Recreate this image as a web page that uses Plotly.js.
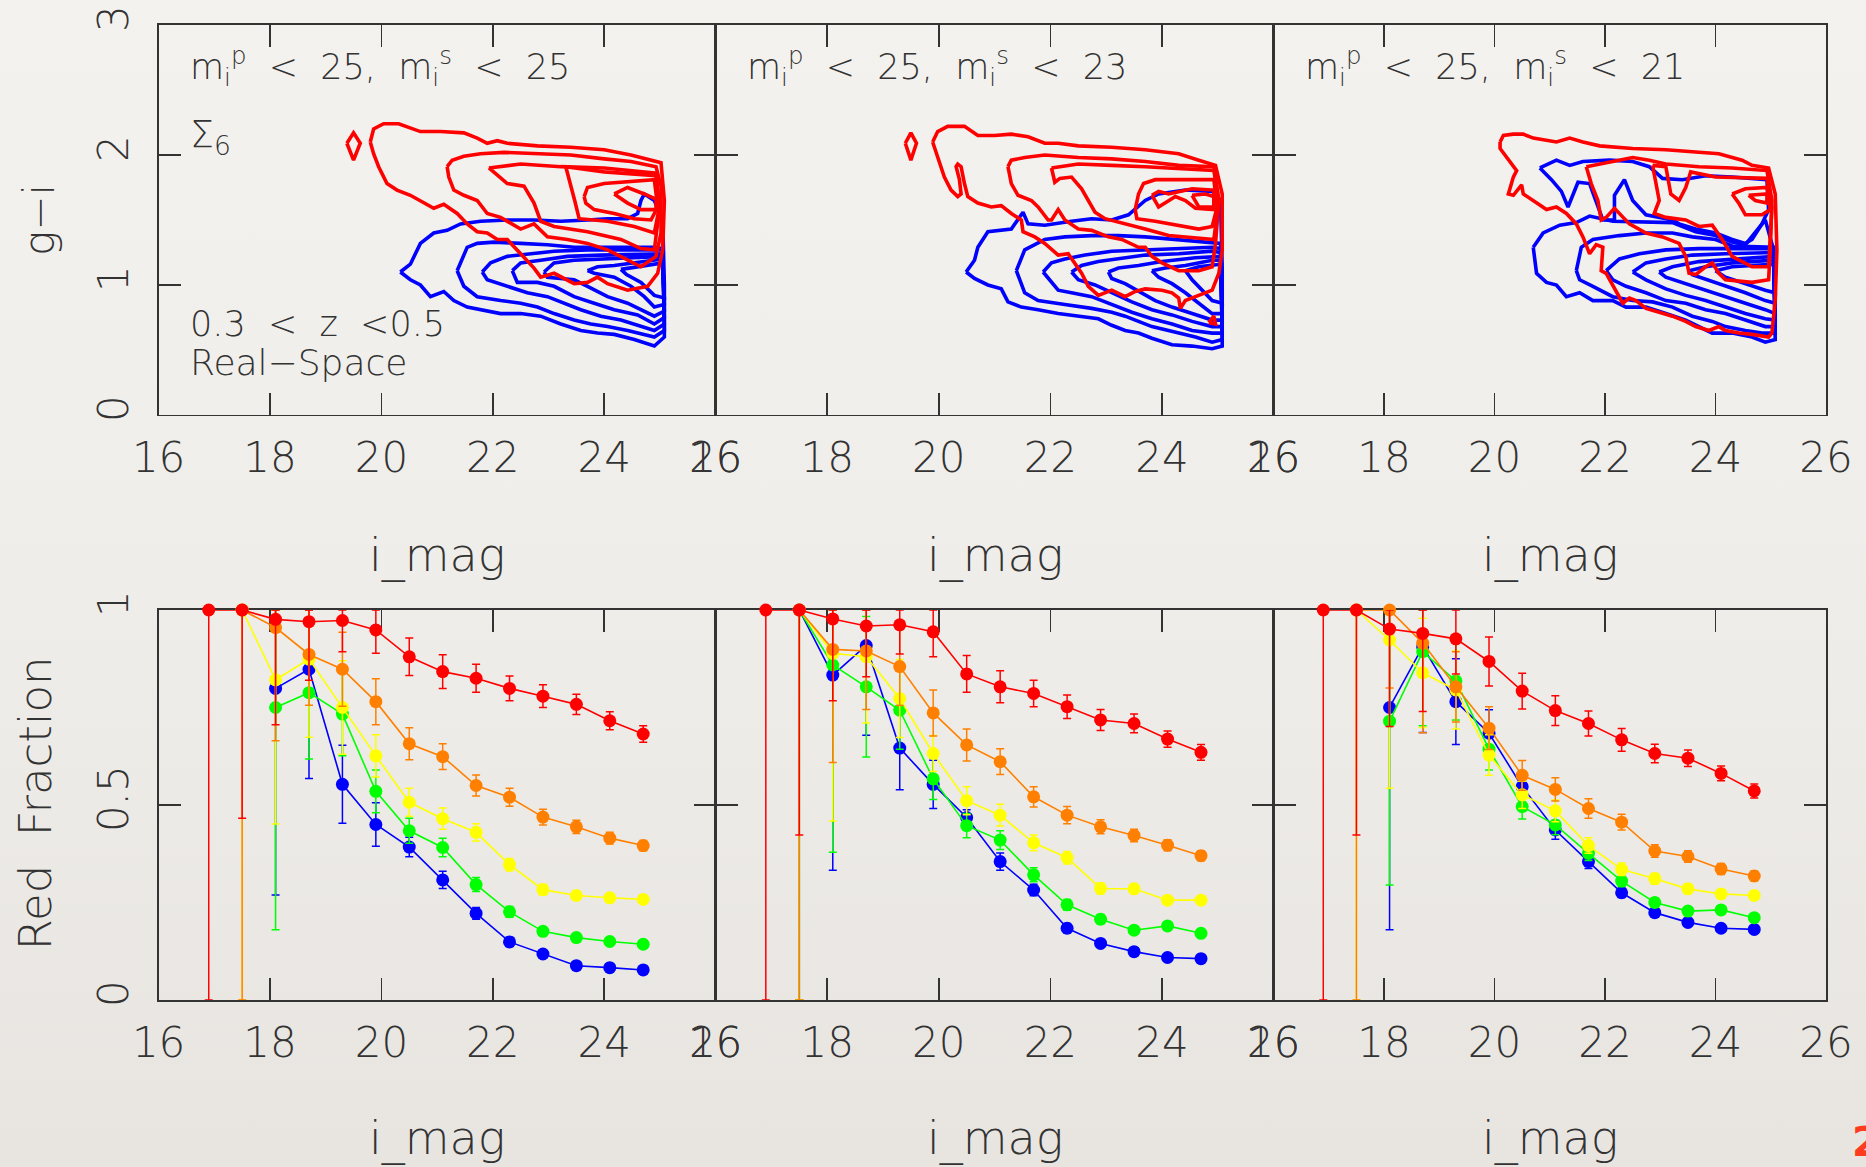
<!DOCTYPE html>
<html><head><meta charset="utf-8">
<script src="https://cdn.plot.ly/plotly-3.0.1.min.js"></script>
<style>
html,body{margin:0;padding:0;width:1866px;height:1167px;overflow:hidden;
background:linear-gradient(to bottom,#f4f2ee 0%,#f0eeea 45%,#e8e5e1 100%);}
#chart{width:1866px;height:1167px;}
</style></head><body><div id="chart"></div>
<script>
// ---------- Red fraction data (bottom row) ----------
const iMag = [16.9,17.5,18.1,18.7,19.3,19.9,20.5,21.1,21.7,22.3,22.9,23.5,24.1,24.7];

const red1 = [1.0,1.0,0.976,0.970,0.973,0.949,0.880,0.842,0.825,0.799,0.779,0.758,0.716,0.682];
const red1Err = [1.0,0.534,0.27,0.15,0.08,0.06,0.048,0.043,0.036,0.032,0.029,0.026,0.023,0.021];
const orange1 = [null,1.0,0.955,0.886,0.848,0.765,0.657,0.624,0.550,0.520,0.469,0.444,0.415,0.396];
const orange1Err = [null,1.0,0.29,0.13,0.095,0.059,0.041,0.033,0.027,0.023,0.02,0.017,0.015,0.013];
const yellow1 = [null,1.0,0.821,0.874,0.750,0.626,0.507,0.465,0.430,0.347,0.283,0.268,0.262,0.258];
const yellow1Err = [null,1.0,0.37,0.2,0.12,0.054,0.036,0.027,0.022,0.016,0.014,0.012,0.011,0.01];
const green1 = [null,null,0.750,0.788,0.733,0.535,0.434,0.391,0.296,0.226,0.176,0.160,0.150,0.143];
const green1Err = [null,null,0.57,0.17,0.107,0.055,0.032,0.024,0.018,0.014,0.012,0.01,0.009,0.008];
const blue1 = [null,null,0.799,0.848,0.553,0.450,0.392,0.308,0.222,0.149,0.118,0.088,0.083,0.077];
const blue1Err = [null,null,0.53,0.28,0.10,0.056,0.025,0.022,0.015,0.012,0.01,0.008,0.008,0.007];

const red2 = [1.0,1.0,0.977,0.959,0.962,0.944,0.836,0.803,0.786,0.752,0.718,0.709,0.669,0.635];
const red2Err = [1.0,0.577,0.21,0.13,0.075,0.064,0.047,0.041,0.034,0.03,0.027,0.024,0.021,0.02];
const orange2 = [null,1.0,0.899,0.895,0.855,0.736,0.654,0.611,0.521,0.474,0.444,0.422,0.397,0.370];
const orange2Err = [null,1.0,0.29,0.15,0.10,0.059,0.041,0.033,0.026,0.022,0.018,0.016,0.014,0.013];
const yellow2 = [null,1.0,0.889,0.880,0.773,0.632,0.511,0.474,0.403,0.365,0.286,0.285,0.256,0.256];
const yellow2Err = [null,1.0,0.43,0.17,0.10,0.046,0.036,0.028,0.02,0.016,0.014,0.012,0.011,0.01];
const green2 = [null,1.0,0.859,0.803,0.743,0.567,0.447,0.410,0.321,0.244,0.207,0.179,0.190,0.171];
const green2Err = [null,1.0,0.48,0.18,0.10,0.053,0.031,0.024,0.018,0.014,0.012,0.01,0.009,0.008];
const blue2 = [null,1.0,0.833,0.909,0.646,0.553,0.468,0.355,0.282,0.184,0.145,0.124,0.109,0.106];
const blue2Err = [null,1.0,0.5,0.23,0.107,0.062,0.02,0.022,0.015,0.012,0.01,0.008,0.008,0.007];

const red3 = [1.0,1.0,0.951,0.940,0.926,0.868,0.792,0.742,0.709,0.667,0.632,0.620,0.581,0.536];
const red3Err = [1.0,0.577,0.25,0.2,0.09,0.063,0.046,0.038,0.032,0.029,0.024,0.021,0.019,0.018];
const orange3 = [null,1.0,1.0,0.915,0.803,0.697,0.576,0.540,0.491,0.456,0.382,0.368,0.336,0.318];
const orange3Err = [null,1.0,0.2,0.23,0.09,0.055,0.038,0.03,0.025,0.02,0.016,0.015,0.014,0.013];
const yellow3 = [null,1.0,0.923,0.839,0.795,0.628,0.526,0.485,0.396,0.335,0.311,0.285,0.272,0.268];
const yellow3Err = [null,1.0,0.38,0.14,0.1,0.052,0.035,0.028,0.02,0.016,0.014,0.012,0.011,0.01];
const green3 = [null,null,0.715,0.893,0.818,0.643,0.496,0.449,0.376,0.305,0.250,0.228,0.231,0.211];
const green3Err = [null,null,0.42,0.19,0.1,0.053,0.032,0.025,0.018,0.014,0.012,0.01,0.009,0.008];
const blue3 = [null,null,0.750,0.906,0.765,0.684,0.547,0.436,0.355,0.275,0.224,0.199,0.184,0.181];
const blue3Err = [null,null,0.57,0.22,0.11,0.06,0.03,0.024,0.018,0.012,0.01,0.008,0.008,0.007];

// ---------- Contour lines (top row), [i_mag, g-i] ----------
const redContours1 = [
 [[19.38,2.09],[19.50,2.17],[19.62,2.09],[19.50,1.96],[19.38,2.09]],
 [[19.80,2.10],[19.86,2.20],[20.04,2.24],[20.31,2.24],[20.70,2.18],[21.06,2.18],[21.48,2.17],[21.72,2.13],[21.90,2.09],[22.08,2.11],[22.26,2.09],[22.80,2.07],[23.40,2.06],[24.00,2.04],[24.48,2.00],[24.90,1.95],[25.02,1.94],[25.08,1.65],[25.05,1.27],[24.96,1.09],[24.78,0.99],[24.42,0.96],[24.06,1.01],[23.88,1.06],[23.70,1.02],[23.46,1.01],[23.10,1.09],[22.86,1.06],[22.74,1.13],[22.50,1.24],[22.26,1.35],[22.08,1.35],[21.90,1.40],[21.72,1.41],[21.54,1.47],[21.36,1.55],[21.12,1.62],[20.94,1.59],[20.70,1.65],[20.52,1.69],[20.28,1.73],[20.10,1.78],[19.95,1.91],[19.86,2.01],[19.80,2.10]],
 [[21.18,1.91],[21.27,1.96],[21.48,1.99],[21.78,2.01],[22.20,2.02],[22.80,2.01],[23.40,2.00],[24.00,1.97],[24.48,1.95],[24.93,1.91],[25.02,1.76],[25.02,1.40],[24.93,1.22],[24.66,1.14],[24.42,1.19],[24.06,1.27],[23.70,1.32],[23.34,1.35],[22.98,1.37],[22.74,1.47],[22.50,1.43],[22.14,1.52],[21.90,1.55],[21.72,1.65],[21.48,1.69],[21.30,1.73],[21.21,1.83],[21.18,1.91]],
 [[21.93,1.90],[22.50,1.93],[23.22,1.91],[24.00,1.90],[24.93,1.86],[24.99,1.58],[24.90,1.27],[24.66,1.28],[24.30,1.35],[23.70,1.41],[23.10,1.45],[22.86,1.49],[22.74,1.63],[22.56,1.76],[22.26,1.78],[21.93,1.90]],
 [[23.31,1.91],[24.00,1.87],[24.93,1.84],[24.99,1.60],[24.90,1.40],[24.54,1.45],[24.06,1.49],[23.55,1.51],[23.47,1.65],[23.37,1.83],[23.31,1.91]],
 [[23.64,1.68],[23.70,1.75],[24.00,1.78],[24.30,1.79],[24.90,1.81],[24.96,1.60],[24.84,1.50],[24.54,1.51],[24.18,1.55],[23.82,1.58],[23.67,1.63],[23.64,1.68]],
 [[24.18,1.70],[24.42,1.75],[24.72,1.70],[24.93,1.66],[24.93,1.58],[24.66,1.58],[24.42,1.63],[24.18,1.70]]
];
const blueContours1 = [
 [[20.34,1.10],[20.52,1.16],[20.70,1.32],[20.94,1.40],[21.18,1.42],[21.42,1.47],[21.78,1.49],[22.26,1.50],[22.74,1.50],[23.22,1.49],[23.70,1.50],[24.06,1.51],[24.42,1.51],[24.60,1.55],[24.66,1.65],[24.72,1.70],[24.90,1.65],[25.05,1.50],[25.08,1.00],[25.08,0.60],[24.90,0.53],[24.54,0.58],[24.18,0.62],[23.88,0.63],[23.58,0.65],[23.22,0.70],[22.86,0.76],[22.50,0.78],[22.14,0.78],[21.78,0.81],[21.54,0.83],[21.30,0.88],[21.12,0.95],[20.88,0.91],[20.70,1.00],[20.52,1.04],[20.34,1.10]],
 [[21.36,1.11],[21.54,1.29],[21.72,1.32],[22.02,1.33],[22.50,1.32],[22.98,1.31],[23.46,1.29],[23.94,1.29],[24.30,1.29],[24.90,1.29],[25.05,1.28],[25.08,0.65],[24.90,0.60],[24.42,0.65],[24.06,0.68],[23.76,0.70],[23.46,0.73],[23.10,0.78],[22.80,0.83],[22.50,0.86],[22.14,0.88],[21.72,0.91],[21.48,0.99],[21.36,1.11]],
 [[21.81,1.10],[21.96,1.17],[22.26,1.22],[22.62,1.24],[23.10,1.26],[23.70,1.27],[24.90,1.27],[25.05,1.27],[25.08,0.70],[24.90,0.65],[24.30,0.73],[23.94,0.76],[23.58,0.81],[23.28,0.86],[22.98,0.91],[22.62,0.94],[22.26,0.99],[21.90,1.04],[21.81,1.10]],
 [[22.35,1.11],[22.50,1.17],[22.86,1.19],[23.34,1.22],[23.94,1.23],[24.90,1.24],[25.05,1.24],[25.08,0.75],[24.90,0.70],[24.60,0.77],[24.18,0.81],[23.82,0.86],[23.46,0.91],[23.10,0.99],[22.80,1.02],[22.44,1.02],[22.35,1.11]],
 [[22.92,1.10],[23.10,1.17],[23.46,1.19],[24.00,1.20],[24.90,1.22],[25.05,1.22],[25.08,0.80],[24.90,0.76],[24.42,0.86],[24.06,0.91],[23.70,0.99],[23.46,1.04],[22.98,1.06],[22.92,1.10]],
 [[23.70,1.11],[23.88,1.14],[24.18,1.15],[24.90,1.19],[25.05,1.20],[25.08,0.85],[24.90,0.83],[24.72,0.91],[24.48,0.99],[24.18,1.06],[23.82,1.09],[23.70,1.11]],
 [[24.30,1.12],[24.60,1.14],[25.05,1.17],[25.08,0.90],[24.90,0.92],[24.66,1.02],[24.40,1.08],[24.30,1.12]]
];

const redContours2 = [
 [[19.40,2.09],[19.50,2.17],[19.60,2.09],[19.50,1.96],[19.40,2.09]],
 [[19.89,2.10],[19.98,2.18],[20.16,2.22],[20.46,2.22],[20.70,2.15],[21.00,2.15],[21.30,2.16],[21.60,2.14],[21.90,2.09],[22.14,2.09],[22.50,2.07],[23.10,2.06],[23.70,2.04],[24.30,2.01],[24.66,1.96],[24.96,1.92],[25.08,1.70],[25.08,1.27],[25.02,1.09],[24.90,0.96],[24.60,0.91],[24.42,0.88],[24.33,0.82],[24.30,0.90],[24.18,0.94],[24.00,0.96],[23.70,0.97],[23.52,0.95],[23.34,0.91],[23.10,0.96],[22.86,0.92],[22.68,0.99],[22.56,1.09],[22.44,1.17],[22.32,1.24],[22.14,1.23],[21.90,1.32],[21.72,1.37],[21.51,1.41],[21.48,1.50],[21.30,1.55],[21.12,1.61],[20.94,1.60],[20.70,1.63],[20.52,1.68],[20.46,1.78],[20.40,1.91],[20.34,1.93],[20.31,1.91],[20.37,1.81],[20.40,1.70],[20.34,1.68],[20.22,1.73],[20.10,1.83],[19.98,1.98],[19.89,2.10]],
 [[21.24,1.91],[21.30,1.96],[21.54,1.98],[21.90,2.00],[22.50,1.98],[23.10,1.97],[23.70,1.95],[24.30,1.92],[24.93,1.91],[25.02,1.65],[24.96,1.32],[24.90,1.14],[24.66,1.11],[24.30,1.11],[24.00,1.17],[23.82,1.22],[23.70,1.29],[23.58,1.29],[23.28,1.35],[23.04,1.37],[22.74,1.42],[22.50,1.43],[22.26,1.50],[22.14,1.58],[22.02,1.50],[21.96,1.50],[21.78,1.60],[21.66,1.65],[21.42,1.69],[21.30,1.78],[21.24,1.91]],
 [[22.02,1.90],[22.50,1.93],[23.10,1.92],[23.70,1.91],[24.93,1.88],[25.02,1.65],[24.93,1.35],[24.60,1.36],[24.12,1.38],[23.70,1.43],[23.34,1.47],[22.98,1.51],[22.80,1.56],[22.68,1.65],[22.56,1.74],[22.38,1.83],[22.17,1.82],[22.08,1.79],[22.02,1.90]],
 [[23.52,1.58],[23.58,1.70],[23.67,1.78],[23.88,1.81],[24.30,1.81],[24.93,1.81],[24.99,1.60],[24.90,1.45],[24.66,1.43],[24.30,1.46],[23.88,1.49],[23.55,1.51],[23.52,1.58]],
 [[23.82,1.69],[23.94,1.72],[24.12,1.70],[24.30,1.72],[24.54,1.74],[24.93,1.73],[24.93,1.58],[24.60,1.59],[24.42,1.65],[24.24,1.68],[24.06,1.63],[23.94,1.60],[23.82,1.69]],
 [[24.54,1.69],[24.78,1.70],[24.93,1.68],[24.93,1.60],[24.66,1.60],[24.54,1.69]],
 [[24.84,0.71],[24.93,0.76],[24.96,0.70],[24.84,0.71]]
];
const blueContours2 = [
 [[20.49,1.10],[20.64,1.19],[20.70,1.29],[20.88,1.41],[21.30,1.43],[21.42,1.50],[21.51,1.56],[21.60,1.47],[21.90,1.46],[22.38,1.49],[22.74,1.51],[23.10,1.50],[23.40,1.54],[23.70,1.65],[23.94,1.70],[24.42,1.73],[24.90,1.72],[25.05,1.65],[25.08,1.14],[25.08,0.53],[24.90,0.51],[24.54,0.53],[24.18,0.54],[23.82,0.59],[23.58,0.63],[23.34,0.65],[23.10,0.69],[22.86,0.74],[22.50,0.76],[22.14,0.78],[21.78,0.81],[21.48,0.83],[21.24,0.87],[21.12,0.97],[20.88,1.00],[20.64,1.05],[20.49,1.10]],
 [[21.39,1.11],[21.54,1.27],[21.90,1.35],[22.26,1.37],[22.74,1.38],[23.22,1.38],[23.70,1.37],[24.30,1.35],[24.90,1.33],[25.05,1.32],[25.08,0.58],[24.90,0.56],[24.60,0.60],[24.30,0.63],[24.06,0.65],[23.82,0.68],[23.58,0.72],[23.34,0.76],[23.10,0.79],[22.74,0.82],[22.26,0.85],[21.78,0.88],[21.54,0.94],[21.39,1.11]],
 [[21.87,1.10],[22.02,1.17],[22.26,1.20],[22.62,1.23],[23.10,1.26],[23.70,1.27],[24.30,1.28],[24.90,1.29],[25.05,1.28],[25.08,0.63],[24.90,0.63],[24.54,0.65],[24.18,0.70],[23.82,0.74],[23.46,0.79],[23.10,0.85],[22.74,0.91],[22.38,0.94],[22.14,0.96],[21.87,1.10]],
 [[22.38,1.10],[22.56,1.15],[22.86,1.18],[23.22,1.20],[23.70,1.23],[24.30,1.24],[24.90,1.26],[25.05,1.25],[25.08,0.68],[24.90,0.68],[24.54,0.72],[24.18,0.77],[23.82,0.81],[23.46,0.87],[23.10,0.94],[22.80,1.00],[22.50,1.04],[22.38,1.10]],
 [[23.04,1.10],[23.22,1.13],[23.58,1.15],[24.00,1.18],[24.60,1.21],[25.05,1.22],[25.08,0.73],[24.90,0.73],[24.54,0.78],[24.18,0.83],[23.88,0.88],[23.58,0.95],[23.34,1.01],[23.10,1.05],[23.04,1.10]],
 [[23.82,1.11],[24.06,1.13],[24.42,1.15],[24.90,1.19],[25.05,1.19],[25.08,0.78],[24.90,0.78],[24.66,0.86],[24.42,0.94],[24.18,1.01],[23.94,1.06],[23.82,1.11]],
 [[24.42,1.11],[24.66,1.14],[25.05,1.16],[25.08,0.86],[24.90,0.88],[24.72,0.96],[24.54,1.04],[24.42,1.11]]
];

const redContours3 = [
 [[20.10,2.10],[20.16,2.15],[20.34,2.16],[20.52,2.16],[20.70,2.13],[20.94,2.11],[21.12,2.10],[21.36,2.13],[21.60,2.10],[21.90,2.07],[22.20,2.06],[22.50,2.05],[23.10,2.04],[23.70,2.02],[24.06,2.01],[24.48,1.96],[24.66,1.92],[24.96,1.90],[25.08,1.70],[25.11,1.27],[25.08,0.88],[25.02,0.63],[24.96,0.60],[24.66,0.62],[24.42,0.63],[24.18,0.65],[24.06,0.68],[23.88,0.65],[23.64,0.68],[23.46,0.72],[23.22,0.76],[22.98,0.79],[22.74,0.82],[22.56,0.88],[22.44,0.90],[22.32,0.86],[22.14,0.99],[22.02,1.09],[21.93,1.11],[21.96,1.29],[21.84,1.31],[21.72,1.24],[21.60,1.37],[21.48,1.47],[21.30,1.55],[21.12,1.60],[20.94,1.58],[20.70,1.65],[20.52,1.70],[20.49,1.77],[20.34,1.69],[20.25,1.70],[20.34,1.83],[20.40,1.88],[20.25,1.96],[20.10,2.05],[20.10,2.10]],
 [[21.66,1.91],[21.90,1.93],[22.26,1.96],[22.50,1.98],[22.80,1.96],[23.10,1.93],[23.70,1.91],[24.30,1.90],[24.93,1.88],[25.02,1.65],[24.99,1.27],[24.96,1.04],[24.66,1.02],[24.18,1.04],[24.06,1.09],[23.94,1.17],[23.82,1.14],[23.64,1.08],[23.52,1.09],[23.46,1.22],[23.34,1.32],[23.04,1.37],[22.74,1.40],[22.44,1.47],[22.17,1.59],[22.02,1.52],[21.93,1.50],[21.87,1.65],[21.75,1.78],[21.66,1.91]],
 [[22.86,1.92],[23.10,1.91],[23.19,1.70],[23.34,1.65],[23.46,1.75],[23.55,1.87],[24.00,1.83],[24.93,1.82],[25.02,1.60],[24.96,1.14],[24.66,1.14],[24.30,1.22],[24.12,1.35],[23.94,1.46],[23.70,1.45],[23.46,1.50],[23.10,1.52],[22.89,1.55],[22.98,1.65],[22.92,1.78],[22.86,1.92]],
 [[24.30,1.70],[24.54,1.74],[24.93,1.75],[24.99,1.58],[24.84,1.54],[24.54,1.54],[24.42,1.63],[24.30,1.70]],
 [[24.60,1.69],[24.93,1.70],[24.93,1.63],[24.72,1.65],[24.60,1.69]]
];
const blueContours3 = [
 [[20.82,1.90],[21.12,1.96],[21.36,1.92],[21.60,1.95],[22.08,1.96],[22.50,1.95],[22.80,1.91],[23.04,1.82],[23.40,1.81],[23.82,1.84],[24.30,1.83],[24.93,1.81],[24.96,1.58],[24.84,1.47],[24.66,1.35],[24.54,1.32],[24.30,1.35],[24.00,1.40],[23.64,1.43],[23.34,1.47],[23.22,1.50],[22.74,1.54],[22.50,1.65],[22.35,1.81],[22.17,1.69],[22.17,1.50],[21.96,1.50],[21.84,1.65],[21.72,1.78],[21.51,1.79],[21.33,1.60],[21.21,1.72],[21.03,1.81],[20.82,1.90]],
 [[20.70,1.29],[20.88,1.40],[21.18,1.46],[21.48,1.48],[21.72,1.53],[22.14,1.49],[23.22,1.48],[23.64,1.41],[24.00,1.38],[24.30,1.33],[24.54,1.31],[24.75,1.42],[24.90,1.50],[25.05,1.27],[25.08,0.58],[24.90,0.56],[24.66,0.60],[24.30,0.63],[23.94,0.63],[23.70,0.68],[23.46,0.73],[23.10,0.78],[22.74,0.83],[22.38,0.83],[22.14,0.88],[21.78,0.88],[21.54,0.94],[21.30,0.91],[21.12,1.00],[20.94,1.02],[20.76,1.09],[20.70,1.29]],
 [[21.48,1.11],[21.57,1.29],[21.78,1.35],[22.26,1.38],[22.74,1.40],[23.22,1.40],[23.58,1.37],[24.00,1.35],[24.30,1.30],[24.90,1.29],[25.05,1.29],[25.08,0.63],[24.84,0.63],[24.54,0.65],[24.18,0.68],[23.94,0.72],[23.58,0.76],[23.22,0.83],[22.86,0.87],[22.50,0.88],[22.14,0.91],[21.78,0.99],[21.54,1.04],[21.48,1.11]],
 [[22.02,1.11],[22.26,1.20],[22.62,1.24],[23.10,1.27],[23.70,1.28],[24.30,1.28],[25.05,1.28],[25.08,0.68],[24.90,0.68],[24.54,0.73],[24.18,0.78],[23.82,0.81],[23.46,0.86],[23.10,0.88],[22.74,0.94],[22.38,0.99],[22.14,1.04],[22.02,1.11]],
 [[22.50,1.10],[22.74,1.17],[23.10,1.20],[23.58,1.23],[24.18,1.24],[25.05,1.25],[25.08,0.73],[24.90,0.74],[24.54,0.78],[24.18,0.83],[23.82,0.88],[23.46,0.92],[23.10,0.97],[22.74,1.04],[22.50,1.10]],
 [[22.98,1.10],[23.22,1.14],[23.70,1.18],[24.30,1.20],[25.05,1.22],[25.08,0.78],[24.90,0.81],[24.54,0.86],[24.18,0.91],[23.82,0.96],[23.46,1.01],[23.10,1.06],[22.98,1.10]],
 [[23.52,1.11],[23.82,1.14],[24.30,1.17],[25.05,1.19],[25.08,0.86],[24.90,0.88],[24.54,0.94],[24.18,0.99],[23.82,1.04],[23.58,1.08],[23.52,1.11]],
 [[24.00,1.11],[24.30,1.14],[25.05,1.16],[25.08,0.94],[24.90,0.96],[24.54,1.01],[24.18,1.06],[24.00,1.11]]
];

// ---------- text ----------
const xTickVals = [16,18,20,22,24,26];
const topYTicks = [0,1,2,3];
const botYTicks = [0,0.5,1];
const botYText = ['0','0.5','1'];
const panelCuts = ['25','23','21'];

// ---------- build ----------
const FONT = '"DejaVu Sans", sans-serif';
const W = 200;
const INK = '#333333';
function ax(n, letter){ return n===1 ? letter : letter+n; }

function contourTrace(polys, color, n){
  const xs=[], ys=[];
  polys.forEach(p=>{ p.forEach(pt=>{ xs.push(pt[0]); ys.push(pt[1]); }); xs.push(null); ys.push(null); });
  return {type:'scatter', mode:'lines', x:xs, y:ys, xaxis:ax(n,'x'), yaxis:ax(n,'y'),
    line:{color:color, width:3.6}, connectgaps:false, hoverinfo:'skip', showlegend:false};
}
function fracTrace(vals, errs, color, n){
  const up = vals.map((v,i)=> v===null ? null : Math.min(errs[i], Math.max(0, 1 - v)));
  return {type:'scatter', mode:'lines+markers', x:iMag, y:vals, xaxis:ax(n,'x'), yaxis:ax(n,'y'),
    line:{color:color, width:1.6}, marker:{color:color, size:13},
    error_y:{type:'data', symmetric:false, array:up, arrayminus:errs, color:color, thickness:1.5, width:4},
    cliponaxis:false, connectgaps:false, hoverinfo:'skip', showlegend:false};
}

const traces = [
  contourTrace(blueContours1,'#0000ff',1), contourTrace(redContours1,'#ff0000',1),
  contourTrace(blueContours2,'#0000ff',2), contourTrace(redContours2,'#ff0000',2),
  contourTrace(blueContours3,'#0000ff',3), contourTrace(redContours3,'#ff0000',3)
];
const fracSets = [
  [blue1,blue1Err,green1,green1Err,yellow1,yellow1Err,orange1,orange1Err,red1,red1Err],
  [blue2,blue2Err,green2,green2Err,yellow2,yellow2Err,orange2,orange2Err,red2,red2Err],
  [blue3,blue3Err,green3,green3Err,yellow3,yellow3Err,orange3,orange3Err,red3,red3Err]
];
const fracColors = ['#0000ff','#00ff00','#ffff00','#ff8000','#ff0000'];
fracSets.forEach((s,k)=>{
  for(let c=0;c<5;c++) traces.push(fracTrace(s[2*c], s[2*c+1], fracColors[c], k+4));
});

const X_DOM = [[0.0850,0.3835],[0.3835,0.6825],[0.6825,0.9786]];
const Y_TOP = [0.6444,0.9786], Y_BOT = [0.1431,0.4773];

const layout = {
  width:1866, height:1167, margin:{l:0,r:0,t:0,b:0},
  paper_bgcolor:'rgba(0,0,0,0)', plot_bgcolor:'rgba(0,0,0,0)',
  showlegend:false, font:{family:FONT, color:INK, weight:W},
  annotations:[]
};
const tickFont = {family:FONT, size:42, color:INK, weight:W};
for(let n=1;n<=6;n++){
  const col=(n-1)%3, top=n<=3;
  layout[n===1?'xaxis':'xaxis'+n] = {
    domain:X_DOM[col], anchor:ax(n,'y'), range:[16,26], tickmode:'array', tickvals:xTickVals,
    ticks:'inside', ticklen:22, tickwidth:1.5, tickcolor:INK, showline:true, linecolor:INK, linewidth:1.5,
    mirror:'ticks', showgrid:false, zeroline:false, tickfont:tickFont, ticklabelstandoff:5,
    layer:'below traces', fixedrange:true
  };
  layout[n===1?'yaxis':'yaxis'+n] = {
    domain: top?Y_TOP:Y_BOT, anchor:ax(n,'x'), range: top?[0,3]:[0,1], tickmode:'array',
    tickvals: top?topYTicks:botYTicks, ticktext: top?topYTicks.map(String):botYText,
    ticks:'inside', ticklen:22, tickwidth:1.5, tickcolor:INK, showline:true, linecolor:INK, linewidth:1.5,
    mirror:'ticks', showgrid:false, zeroline:false, tickfont:tickFont, tickangle:-90,
    showticklabels: col===0, ticklabelstandoff:12, layer:'below traces', fixedrange:true
  };
}
const A = layout.annotations;
const S2 = '&nbsp;&nbsp;';
panelCuts.forEach((cut,k)=>{
  A.push({xref:ax(k+1,'x'), yref:ax(k+1,'y'), x:16.53, y:2.68, xanchor:'left', yanchor:'middle', showarrow:false,
    text:'m<sub>i</sub><sup>p</sup>'+S2+'&lt;'+S2+'25,'+S2+'m<sub>i</sub><sup>s</sup>'+S2+'&lt;'+S2+cut,
    font:{family:FONT,size:35,color:INK,weight:W}});
});
A.push({xref:'x', yref:'y', x:16.53, y:2.14, xanchor:'left', yanchor:'middle', showarrow:false,
  text:'\u03a3<sub>6</sub>', font:{family:FONT,size:38,color:INK,weight:W}});
A.push({xref:'x', yref:'y', x:16.53, y:0.70, xanchor:'left', yanchor:'middle', showarrow:false,
  text:'0.3'+S2+'&lt;'+S2+'z'+S2+'&lt;0.5', font:{family:FONT,size:35,color:INK,weight:W}});
A.push({xref:'x', yref:'y', x:16.53, y:0.40, xanchor:'left', yanchor:'middle', showarrow:false,
  text:'Real\u2212Space', font:{family:FONT,size:36,color:INK,weight:W}});
for(let k=0;k<3;k++){
  const cx=(X_DOM[k][0]+X_DOM[k][1])/2;
  A.push({xref:'paper', yref:'paper', x:cx, y:0.524, xanchor:'center', yanchor:'middle', showarrow:false,
    text:'i_mag', font:{family:FONT,size:46,color:INK,weight:W}});
  A.push({xref:'paper', yref:'paper', x:cx, y:0.0, xanchor:'center', yanchor:'bottom', showarrow:false,
    text:'i_mag', font:{family:FONT,size:46,color:INK,weight:W}});
}
A.push({xref:'paper', yref:'paper', x:0.0214, y:0.8115, xanchor:'center', yanchor:'middle', showarrow:false,
  textangle:-90, text:'g\u2212i', font:{family:FONT,size:42,color:INK,weight:W}});
A.push({xref:'paper', yref:'paper', x:0.0195, y:0.312, xanchor:'center', yanchor:'middle', showarrow:false,
  textangle:-90, text:'Red&nbsp;&nbsp;Fraction', font:{family:FONT,size:45,color:INK,weight:W}});
A.push({xref:'paper', yref:'paper', x:0.9915, y:0.0, xanchor:'left', yanchor:'bottom', showarrow:false,
  text:'2', font:{family:FONT,size:40,color:'#ff3b1f',weight:700}});

Plotly.newPlot('chart', traces, layout, {staticPlot:true, displayModeBar:false});
</script></body></html>
